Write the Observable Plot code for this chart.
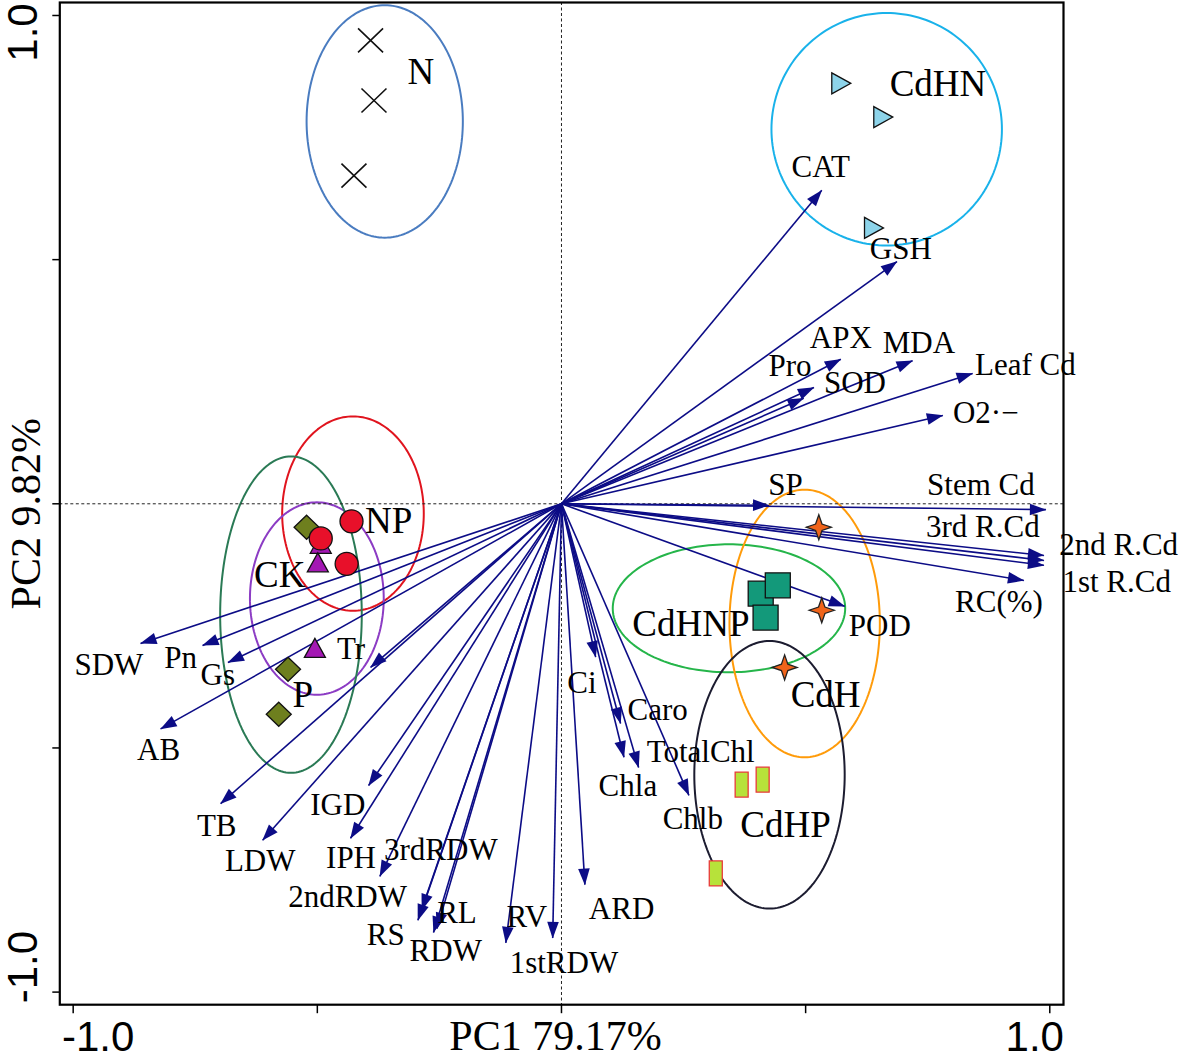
<!DOCTYPE html>
<html><head><meta charset="utf-8">
<script src="https://cdn.jsdelivr.net/npm/d3@7"></script>
<script src="https://cdn.jsdelivr.net/npm/@observablehq/plot@0.6"></script>
<style>body{margin:0;background:#fff}</style>
</head><body><div id="chart"></div>
<script>
// ---- variable loadings (arrows) ----
const variables = ["CAT","GSH","APX","MDA","Pro","SOD","Leaf Cd","O2·−","SP","Stem Cd","3rd R.Cd","2nd R.Cd","1st R.Cd","RC(%)","POD","Ci","Caro","Chla","TotalChl","Chlb","ARD","1stRDW","RV","RL","RDW","RS","2ndRDW","3rdRDW","IPH","IGD","LDW","TB","AB","SDW","Pn","Gs","Tr"];
const loadPC1 = [0.533,0.687,0.572,0.719,0.517,0.496,0.842,0.781,0.425,0.992,0.988,0.988,0.988,0.947,0.580,0.070,0.121,0.128,0.158,0.261,0.048,-0.018,-0.114,-0.255,-0.262,-0.294,-0.286,-0.372,-0.432,-0.395,-0.612,-0.698,-0.821,-0.862,-0.735,-0.683,-0.391];
const loadPC2 = [0.642,0.496,0.296,0.293,0.238,0.216,0.267,0.181,-0.003,-0.012,-0.106,-0.116,-0.126,-0.157,-0.210,-0.314,-0.450,-0.519,-0.540,-0.597,-0.780,-0.889,-0.899,-0.870,-0.878,-0.853,-0.832,-0.763,-0.685,-0.577,-0.689,-0.614,-0.461,-0.286,-0.290,-0.325,-0.335];
const labelPC1 = [0.531,0.695,0.572,0.732,0.468,0.601,0.950,0.869,0.459,0.859,0.863,1.141,1.137,0.896,0.652,0.042,0.197,0.136,0.285,0.269,0.123,0.005,-0.071,-0.214,-0.237,-0.360,-0.438,-0.247,-0.431,-0.458,-0.617,-0.706,-0.825,-0.927,-0.780,-0.704,-0.431];
const labelPC2 = [0.689,0.521,0.340,0.330,0.283,0.248,0.285,0.185,0.038,0.038,-0.048,-0.085,-0.161,-0.202,-0.251,-0.368,-0.423,-0.579,-0.509,-0.645,-0.831,-0.941,-0.847,-0.839,-0.915,-0.884,-0.805,-0.710,-0.726,-0.618,-0.732,-0.659,-0.505,-0.331,-0.315,-0.351,-0.298];

// ---- treatment groups ----
const groups = ["N","CdHN","NP","CK","P","CdHNP","CdH","CdHP"];
const groupLabelPC1 = [-0.288,0.771,-0.354,-0.577,-0.530,0.265,0.541,0.459];
const groupLabelPC2 = [0.883,0.859,-0.036,-0.147,-0.392,-0.247,-0.392,-0.659];
const ellipseCX = [-0.362,0.666,-0.427,-0.501,-0.554,0.343,0.498,0.426];
const ellipseCY = [0.783,0.767,-0.020,-0.194,-0.227,-0.214,-0.245,-0.555];
const ellipseRX = [0.160,0.236,0.145,0.137,0.145,0.238,0.154,0.154];
const ellipseRY = [0.238,0.238,0.199,0.197,0.324,0.131,0.274,0.274];

// ---- sample scores ----
const sampleGroup = ["N","N","N","CdHN","CdHN","CdHN","P","P","P","CK","CK","CK","NP","NP","NP","CdHNP","CdHNP","CdHNP","CdH","CdH","CdH","CdHP","CdHP","CdHP"];
const samplePC1 = [-0.391,-0.384,-0.425,0.572,0.658,0.639,-0.522,-0.560,-0.579,-0.493,-0.499,-0.505,-0.430,-0.493,-0.440,0.408,0.443,0.418,0.527,0.533,0.457,0.369,0.412,0.316];
const samplePC2 = [0.949,0.826,0.672,0.861,0.792,0.565,-0.048,-0.339,-0.431,-0.085,-0.123,-0.298,-0.036,-0.071,-0.123,-0.184,-0.167,-0.233,-0.048,-0.218,-0.335,-0.575,-0.565,-0.757];

// ---- styles ----
const ellipseColor = {N:"#4a7cc0",CdHN:"#19b2ea",NP:"#e0141e",CK:"#8c3cc4",P:"#2a7a55",CdHNP:"#25b54a",CdH:"#ff9b0a",CdHP:"#1c1c30"};
const pointFill = {N:"none",CdHN:"#8dd4ea",NP:"#e8102a",CK:"#a418b4",P:"#6e7f1e",CdHNP:"#13997a",CdH:"#f0641a",CdHP:"#b7e23a"};
const pointStroke = {N:"#111",CdHN:"#111",NP:"#111",CK:"#111",P:"#111",CdHNP:"#111",CdH:"#222",CdHP:"#e83a3a"};
const symbols = {
  N: {draw(c){const r=12.5,s=12; c.moveTo(-r,-s);c.lineTo(r,s);c.moveTo(-r,s);c.lineTo(r,-s);}},
  CdHN: {draw(c){c.moveTo(-9,-10.5);c.lineTo(10,0);c.lineTo(-9,10.5);c.closePath();}},
  NP: {draw(c){c.moveTo(11.5,0);c.arc(0,0,11.5,0,2*Math.PI);c.closePath();}},
  CK: {draw(c){c.moveTo(0,-11);c.lineTo(10.5,8);c.lineTo(-10.5,8);c.closePath();}},
  P: {draw(c){c.moveTo(0,-12);c.lineTo(12.5,0);c.lineTo(0,12);c.lineTo(-12.5,0);c.closePath();}},
  CdHNP: {draw(c){c.moveTo(-12.5,-12.5);c.lineTo(12.5,-12.5);c.lineTo(12.5,12.5);c.lineTo(-12.5,12.5);c.closePath();}},
  CdH: {draw(c){const o=12.5,i=3.2;c.moveTo(0,-o);c.lineTo(i,-i);c.lineTo(o,0);c.lineTo(i,i);c.lineTo(0,o);c.lineTo(-i,i);c.lineTo(-o,0);c.lineTo(-i,-i);c.closePath();}},
  CdHP: {draw(c){c.moveTo(-6.5,-12.5);c.lineTo(6.5,-12.5);c.lineTo(6.5,12.5);c.lineTo(-6.5,12.5);c.closePath();}}
};
const arrowColor = "#0c0c86";
const serif = "'Liberation Serif','Times New Roman',Times,serif";
const sans = "'Liberation Sans',Arial,Helvetica,sans-serif";

const varTable = variables.map((v,i)=>({name:v,x:loadPC1[i],y:loadPC2[i],lx:labelPC1[i],ly:labelPC2[i]}));
const sampleTable = sampleGroup.map((g,i)=>({g,x:samplePC1[i],y:samplePC2[i]}));

function headMarker(color) {
  const m = d3.create("svg:marker")
    .attr("viewBox","-17 -7 18 14")
    .attr("markerWidth",18).attr("markerHeight",14)
    .attr("markerUnits","userSpaceOnUse")
    .attr("orient","auto").attr("refX",0).attr("refY",0);
  m.append("path").attr("d","M0.5,0L-16,-5.8L-16,5.8Z").attr("fill",color).attr("stroke","none");
  return m.node();
}

function build(marker) {
  const marks = [];
  groups.forEach((g,i)=>{
    const pts = d3.range(0,361,2).map(a=>{const t=a*Math.PI/180;return {x:ellipseCX[i]+ellipseRX[i]*Math.cos(t),y:ellipseCY[i]+ellipseRY[i]*Math.sin(t)};});
    marks.push(Plot.line(pts,{x:"x",y:"y",stroke:ellipseColor[g],strokeWidth:2}));
  });
  marks.push(Plot.ruleX([0],{stroke:"#222",strokeWidth:1,strokeDasharray:"3,2.5"}));
  marks.push(Plot.ruleY([0],{stroke:"#222",strokeWidth:1,strokeDasharray:"3,2.5"}));
  marks.push(Plot.link(varTable,{x1:()=>0,y1:()=>0,x2:"x",y2:"y",stroke:arrowColor,strokeWidth:1.6,markerEnd:marker}));
  ["N","CdHN","P","CK","NP","CdHNP","CdH","CdHP"].forEach(g=>{
    marks.push(Plot.dot(sampleTable.filter(d=>d.g===g),{x:"x",y:"y",symbol:symbols[g],r:10,fill:pointFill[g],stroke:pointStroke[g],strokeWidth:g==="N"?1.6:1.3}));
  });
  marks.push(Plot.text(varTable,{x:"lx",y:"ly",text:"name",fontSize:31,fontFamily:serif,fill:"#000",textAnchor:"middle",lineAnchor:"middle"}));
  marks.push(Plot.text(groups.map((g,i)=>({g,x:groupLabelPC1[i],y:groupLabelPC2[i]})),{x:"x",y:"y",text:"g",fontSize:37,fontFamily:serif,fill:"#000",textAnchor:"middle",lineAnchor:"middle"}));
  marks.push(Plot.frame({stroke:"#000",strokeWidth:2.2}));
  marks.push(Plot.axisX([-1,-0.5,0,0.5,1],{tickSize:9,tickFormat:()=>"",stroke:"#000",strokeWidth:1.5,label:null}));
  marks.push(Plot.axisY([-1,-0.5,0,0.5,1],{tickSize:7,tickFormat:()=>"",stroke:"#000",strokeWidth:1.5,label:null}));
  // tick labels
  marks.push(Plot.text(["-1.0"],{x:()=>-1,text:d=>d,frameAnchor:"bottom",dx:25,dy:46,lineAnchor:"bottom",textAnchor:"middle",fontSize:42,fontFamily:sans,fill:"#000"}));
  marks.push(Plot.text(["1.0"],{x:()=>1,text:d=>d,frameAnchor:"bottom",dx:-15,dy:46,lineAnchor:"bottom",textAnchor:"middle",fontSize:42,fontFamily:sans,fill:"#000"}));
  marks.push(Plot.text(["1.0"],{y:()=>1,text:d=>d,frameAnchor:"left",rotate:-90,dx:-23,dy:17,lineAnchor:"bottom",textAnchor:"middle",fontSize:42,fontFamily:sans,fill:"#000"}));
  marks.push(Plot.text(["-1.0"],{y:()=>-1,text:d=>d,frameAnchor:"left",rotate:-90,dx:-23,dy:-25,lineAnchor:"bottom",textAnchor:"middle",fontSize:42,fontFamily:sans,fill:"#000"}));
  // axis titles
  marks.push(Plot.text(["PC1 79.17%"],{x:()=>0,text:d=>d,frameAnchor:"bottom",dx:-6,dy:45,lineAnchor:"bottom",textAnchor:"middle",fontSize:42,fontFamily:serif,fill:"#000"}));
  marks.push(Plot.text(["PC2 9.82%"],{y:()=>0,text:d=>d,frameAnchor:"left",rotate:-90,dx:-20,dy:10,lineAnchor:"bottom",textAnchor:"middle",fontSize:42,fontFamily:serif,fill:"#000"}));
  return Plot.plot({
    width:1181,height:1060,
    marginLeft:59.3,marginRight:118,marginTop:2,marginBottom:55.8,
    x:{domain:[-1.0274,1.0281],axis:null},
    y:{domain:[-1.0258,1.0266],axis:null},
    style:{background:"#fff",overflow:"visible"},
    marks
  });
}
let chart;
try { chart = build(headMarker); } catch(e) { chart = build("arrow"); }
document.getElementById("chart").appendChild(chart);
</script></body></html>
